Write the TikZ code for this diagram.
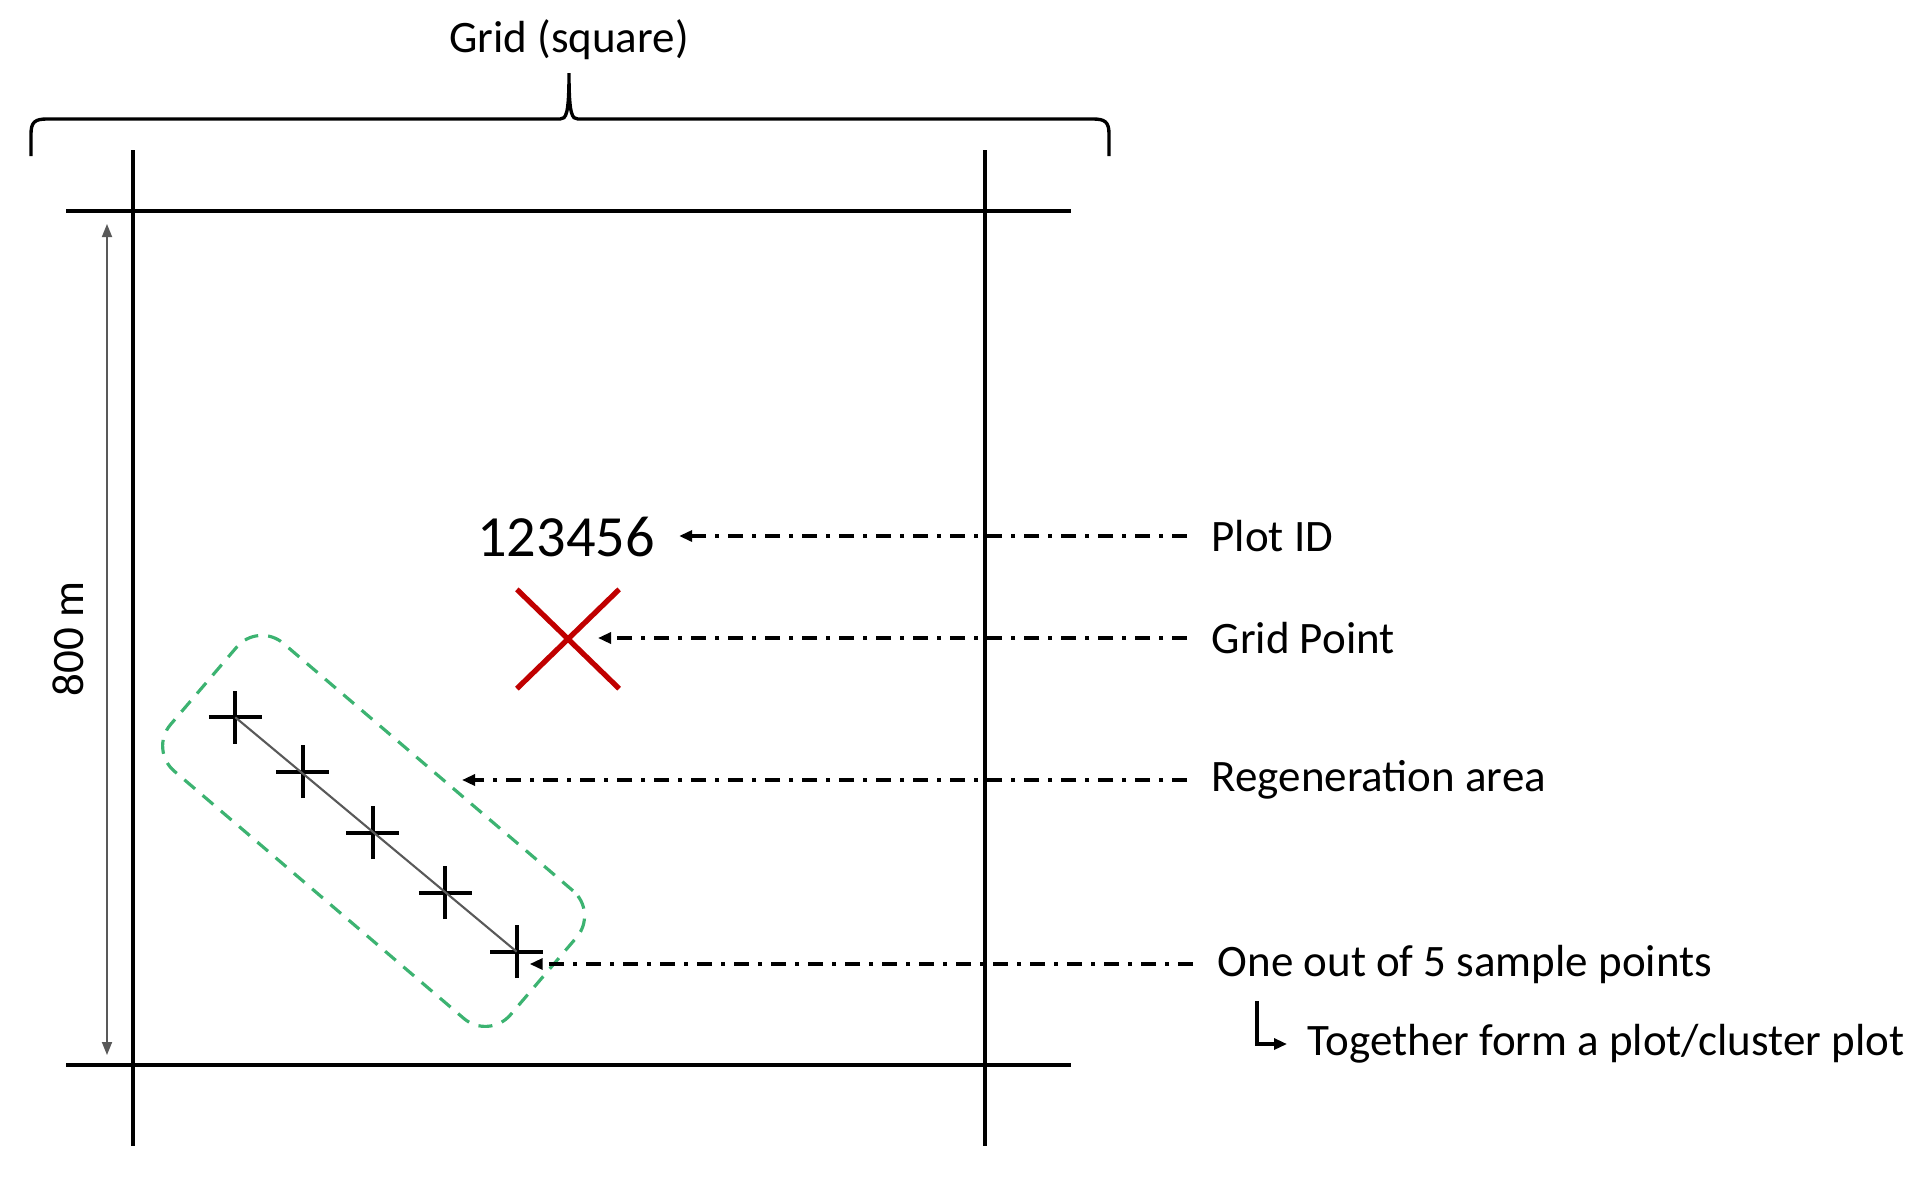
\documentclass[tikz,border=0pt]{standalone}
\usepackage{fontspec}
\setmainfont{Carlito}
\usetikzlibrary{positioning,arrows.meta,calc,shapes.misc}
\definecolor{plotred}{HTML}{C00000}
\definecolor{regengreen}{HTML}{3CB371}
\definecolor{dimgray}{HTML}{595959}

\begin{document}
\begin{tikzpicture}[
    gridLine/.style={line width=0.95pt, draw=black},
    braceLine/.style={line width=0.95pt, draw=black},
    dimArrow/.style={{Triangle[length=0.13cm,width=0.10cm]}-{Triangle[length=0.13cm,width=0.10cm]}, line width=0.5pt, draw=dimgray},
    leaderArrow/.style={-{Triangle[length=0.13cm,width=0.11cm]}, line width=0.9pt, dash pattern=on 0.15cm off 0.09cm on 0.04cm off 0.09cm},
    elbowArrow/.style={-{Triangle[length=0.13cm,width=0.11cm]}, line width=0.9pt},
    labelText/.style={anchor=west, inner xsep=0.24cm, inner ysep=0pt, font=\fontsize{12.8}{15}\selectfont},
    sampleCross/.style={cross out, draw=black, line width=1.2pt, minimum size=0.33cm, inner sep=0pt, rotate=45},
    gridPoint/.style={cross out, draw=plotred, line width=1.5pt, minimum width=0.97cm, minimum height=0.94cm, inner sep=0pt},
    regenArea/.style={rectangle, rounded corners=0.33cm, draw=regengreen, line width=0.9pt, dash pattern=on 0.14cm off 0.10cm, minimum width=4.47cm, minimum height=1.68cm}
]
    \useasboundingbox (0,0) rectangle (19.28,-11.77);

    \draw[gridLine] (0.66,-2.11) -- (10.71,-2.11);
    \draw[gridLine] (0.66,-10.65) -- (10.71,-10.65);
    \draw[gridLine] (1.33,-1.50) -- (1.33,-11.46);
    \draw[gridLine] (9.85,-1.50) -- (9.85,-11.46);

    \node[font=\fontsize{12.8}{15}\selectfont] (gridTitle) at (5.69,-0.40) {Grid (square)};
    \draw[braceLine] (0.31,-1.56) -- (0.31,-1.34) .. controls (0.31,-1.22) and (0.35,-1.19) .. (0.47,-1.19) -- (5.60,-1.19) .. controls (5.66,-1.19) and (5.69,-1.15) .. (5.69,-0.73) .. controls (5.69,-1.15) and (5.72,-1.19) .. (5.78,-1.19) -- (10.93,-1.19) .. controls (11.05,-1.19) and (11.09,-1.22) .. (11.09,-1.34) -- (11.09,-1.56);

    \coordinate (dimTop) at (1.07,-2.24);
    \coordinate (dimBot) at (1.07,-10.55);
    \draw[dimArrow] (dimTop) -- (dimBot);
    \node[rotate=90, font=\fontsize{12.8}{15}\selectfont] (dimLabel) at (0.68,-6.39) {800 m};

    \node[font=\fontsize{16.6}{20}\selectfont] (pid) at (5.66,-5.37) {123456};
    \node[gridPoint] (gp) at (5.68,-6.39) {};

    \node[regenArea, rotate=-40.5] (regen) at (3.736,-8.309) {};

    \foreach \i/\x/\y in {1/2.353/-7.173, 2/3.027/-7.717, 3/3.727/-8.327, 4/4.453/-8.927, 5/5.167/-9.517}
        \node[sampleCross] (s\i) at (\x,\y) {};
    \draw[line width=0.6pt, draw=dimgray] (s1.center) -- (s5.center);

    \coordinate (pidTip) at ([xshift=0.12cm]pid.east);
    \coordinate (gpTip) at ([xshift=0.30cm]gp.center);
    \coordinate (regenTip) at (4.62,-7.79);
    \coordinate (sampleTip) at ([xshift=0.13cm]s5.center);

    \node[labelText] (lblPlot) at (11.87,-5.36) {Plot ID};
    \node[labelText] (lblGrid) at (11.87,-6.38) {Grid Point};
    \node[labelText] (lblRegen) at (11.87,-7.80) {Regeneration area};
    \node[labelText] (lblSample) at (11.93,-9.64) {One out of 5 sample points};
    \node[labelText] (lblTogether) at (12.83,-10.44) {Together form a plot/cluster plot};

    \draw[leaderArrow] (lblPlot.west) -- (lblPlot.west -| pidTip);
    \draw[leaderArrow] (lblGrid.west) -- (lblGrid.west -| gpTip);
    \draw[leaderArrow] (lblRegen.west) -- (lblRegen.west -| regenTip);
    \draw[leaderArrow] (lblSample.west) -- (lblSample.west -| sampleTip);

    \coordinate (elbowStart) at ([xshift=0.64cm,yshift=-0.17cm]lblSample.south west);
    \draw[elbowArrow] (elbowStart) |- ([xshift=0.04cm]lblTogether.west);
\end{tikzpicture}
\end{document}
